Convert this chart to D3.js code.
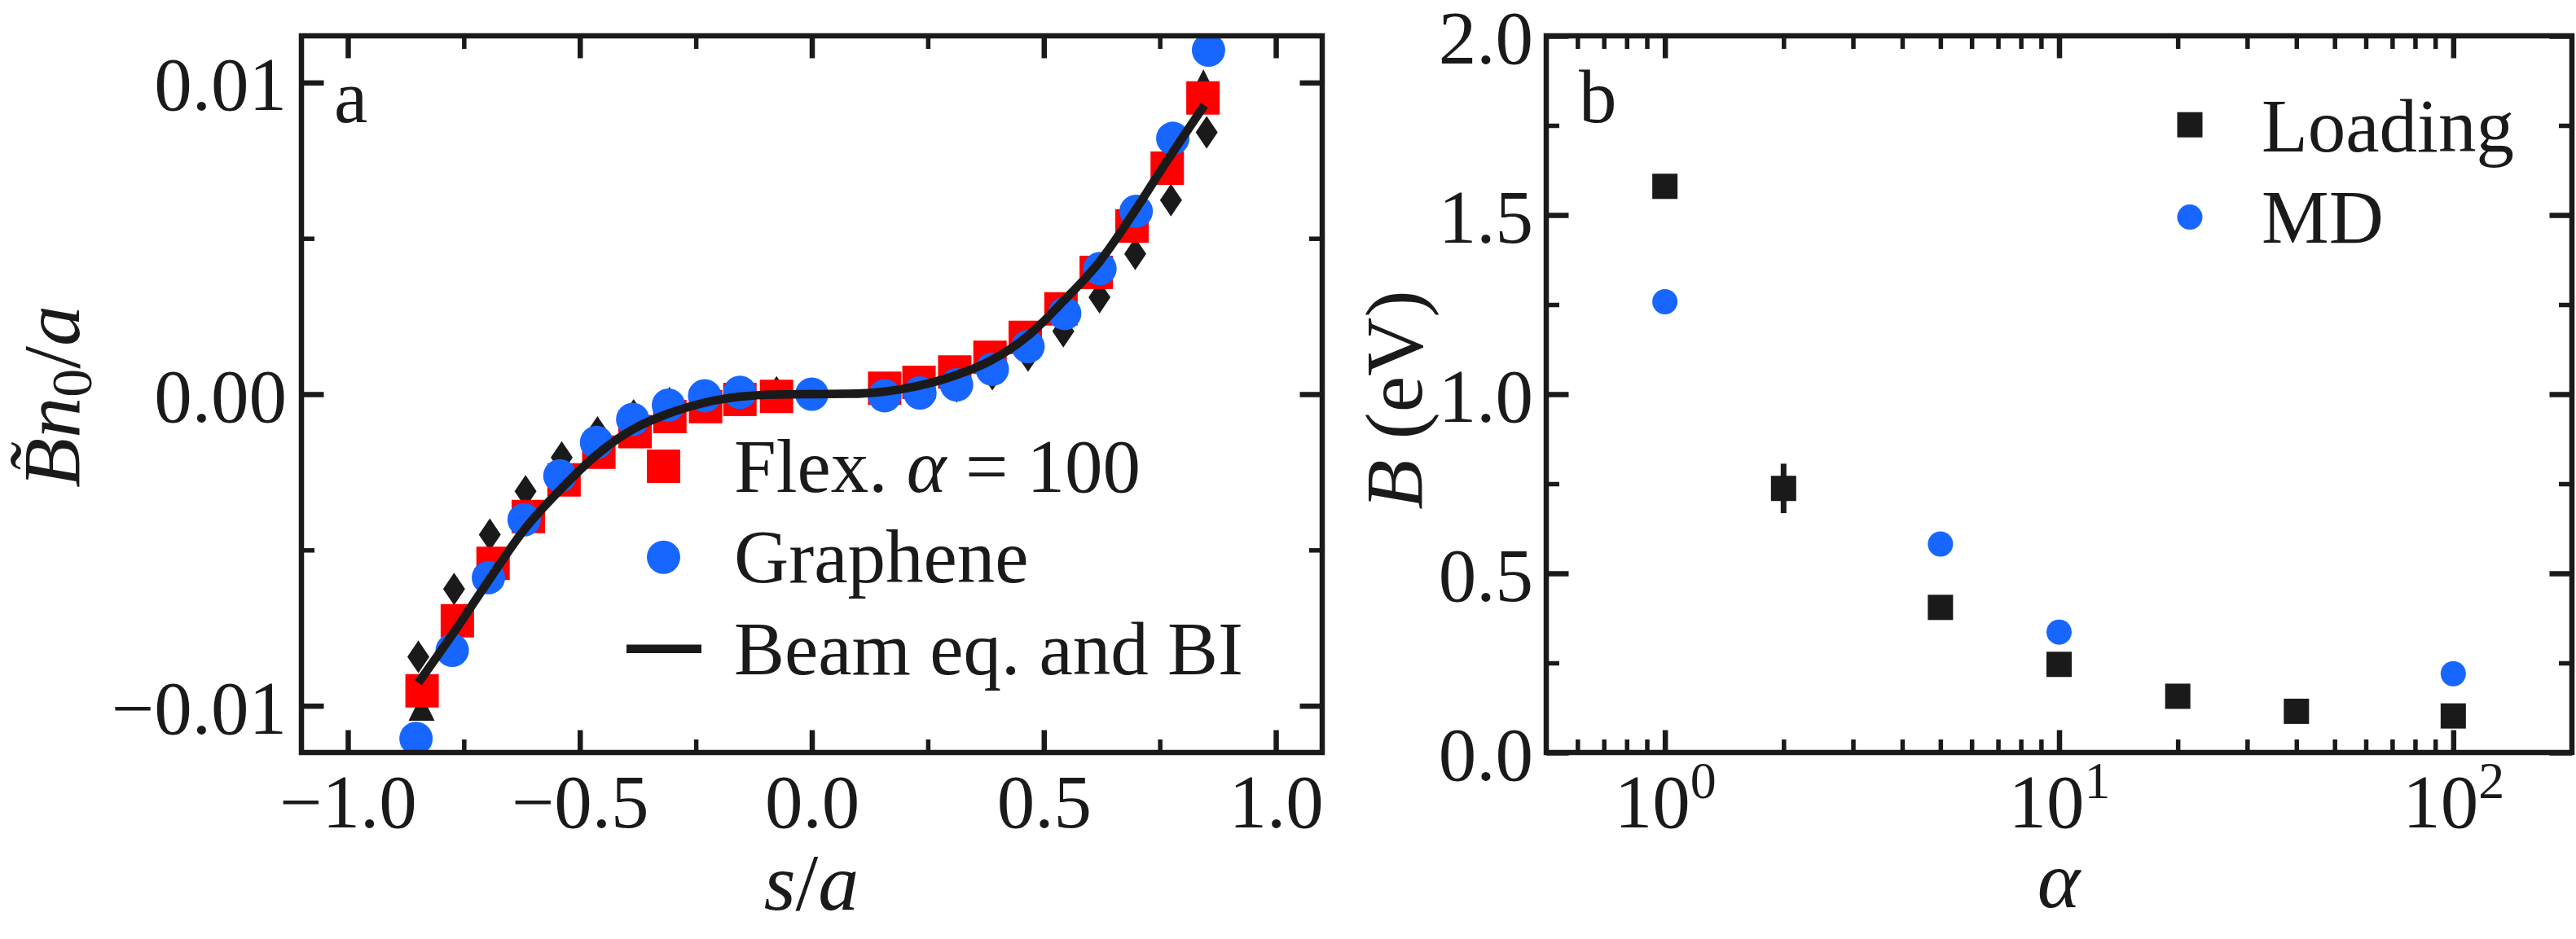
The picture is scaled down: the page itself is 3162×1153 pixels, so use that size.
<!DOCTYPE html>
<html><head><meta charset="utf-8">
<script src="https://cdn.jsdelivr.net/npm/d3@7"></script>
<style>
html,body{margin:0;padding:0;background:#fff;}
svg{display:block;}
text{white-space:pre;font-family:"Liberation Serif","DejaVu Serif","Noto Serif",serif;}
</style></head><body>
<svg id="chart" width="3162" height="1153"></svg>
<script>
// ---------------- Panel a data ----------------
const graphS = [-0.853, -0.775, -0.697, -0.620, -0.543, -0.464, -0.386, -0.309, -0.231, -0.155, 0.000, 0.157, 0.233, 0.312, 0.389, 0.466, 0.545, 0.621, 0.699, 0.778, 0.855];
const graphV = [-0.01105, -0.00822, -0.00589, -0.00403, -0.00262, -0.00155, -0.00081, -0.00035, -0.00005, 0.00006, 0.00000, -0.00005, 0.00004, 0.00030, 0.00080, 0.00153, 0.00259, 0.00403, 0.00587, 0.00821, 0.01104];

const flexS = [-0.840, -0.764, -0.687, -0.611, -0.534, -0.459, -0.381, -0.306, -0.229, -0.155, -0.076, 0.157, 0.231, 0.308, 0.384, 0.460, 0.537, 0.613, 0.690, 0.766, 0.843];
const flexV = [-0.00952, -0.00727, -0.00543, -0.00393, -0.00275, -0.00186, -0.00120, -0.00072, -0.00040, -0.00017, -0.00007, 0.00019, 0.00038, 0.00071, 0.00118, 0.00182, 0.00274, 0.00391, 0.00540, 0.00725, 0.00951];

const diaS = [-0.848, -0.771, -0.694, -0.617, -0.539, -0.462, -0.384, -0.307, -0.076, 0.312, 0.389, 0.466, 0.542, 0.620, 0.697, 0.774, 0.851];
const diaV = [-0.00843, -0.00625, -0.00451, -0.00312, -0.00203, -0.00123, -0.00068, -0.00029, 0.00006, 0.00025, 0.00064, 0.00124, 0.00202, 0.00311, 0.00450, 0.00623, 0.00840];

const triS = [-0.841, 0.844];
const triV = [-0.01006, 0.01001];

const beamS = [-0.848, -0.764, -0.697, -0.620, -0.543, -0.464, -0.386, -0.309, -0.231, -0.155, -0.078, 0.000, 0.078, 0.155, 0.231, 0.309, 0.386, 0.464, 0.543, 0.620, 0.697, 0.764, 0.846];
const beamV = [-0.00926, -0.00748, -0.00599, -0.00435, -0.00308, -0.00195, -0.00113, -0.00062, -0.00027, -0.00008, -0.00001, 0.00000, 0.00001, 0.00008, 0.00027, 0.00060, 0.00108, 0.00185, 0.00300, 0.00425, 0.00590, 0.00745, 0.00927];

const aXMajor = [-1.0, -0.5, 0.0, 0.5, 1.0];
const aXMinor = [-0.75, -0.25, 0.25, 0.75];
const aYMajor = [-0.01, 0.00, 0.01];
const aYMinor = [-0.005, 0.005];
const aLegend = ["Flex. ", "\u03b1", " = 100", "Graphene", "Beam eq. and BI"];

// ---------------- Panel b data ----------------
const alphaLoad = [1, 2, 5, 10, 20, 40, 100];
const loadB     = [1.580, 0.737, 0.405, 0.246, 0.157, 0.115, 0.102];
const loadErr   = [0, 0.069, 0, 0, 0, 0, 0];
const alphaMD   = [1, 5, 10, 100];
const mdB       = [1.258, 0.582, 0.336, 0.220];

const bXMajor = [1, 10, 100];
const bXMinor = [0.6, 0.7, 0.8, 0.9, 2, 3, 4, 5, 6, 7, 8, 9, 20, 30, 40, 50, 60, 70, 80, 90];
const bYMajor = [0.0, 0.5, 1.0, 1.5, 2.0];
const bYMinor = [0.25, 0.75, 1.25, 1.75];
const bLegend = ["Loading", "MD"];

// ---------------- style ----------------
const W = 3162, H = 1153;
const INK = "#1a1a1a", RED = "#ff0000", BLUE = "#1766ff";
const FS = 93;
const MAJ = 27.5, MIN = 16, SPINE = 6.5;

const svg = d3.select("#chart");
svg.append("rect").attr("width", W).attr("height", H).attr("fill", "#fff");

const xA = d3.scaleLinear([-1.1, 1.1], [370, 1623]);
const yA = d3.scaleLinear([-0.0115, 0.0115], [924, 44]);
const xB = d3.scaleLog([0.5, 200], [1898, 3157]);
const yB = d3.scaleLinear([0, 2], [924, 44]);

function styleAxis(g, w) {
  g.select(".domain").remove();
  g.attr("font-family", null).attr("font-size", FS);
  g.selectAll(".tick line").attr("stroke", INK).attr("stroke-width", w);
  g.selectAll(".tick text").attr("fill", INK);
}

function axes(root, x, y, cfg) {
  const [xl, xr] = x.range();
  const [yb, yt] = y.range();
  const bot = root.append("g").attr("transform", `translate(0,${yb})`)
    .call(d3.axisBottom(x).tickValues(cfg.xMajor).tickSizeInner(-MAJ).tickSizeOuter(0).tickPadding(0).tickFormat(cfg.xFmt));
  styleAxis(bot, 6.5);
  bot.selectAll(".tick text").attr("y", 92).attr("dy", 0);
  root.append("g").attr("transform", `translate(0,${yb})`)
    .call(d3.axisBottom(x).tickValues(cfg.xMinor).tickSizeInner(-MIN).tickSizeOuter(0).tickFormat(""))
    .call(g => styleAxis(g, 5.5));
  root.append("g").attr("transform", `translate(0,${yt})`)
    .call(d3.axisTop(x).tickValues(cfg.xMajor).tickSizeInner(-MAJ).tickSizeOuter(0).tickFormat(""))
    .call(g => styleAxis(g, 6.5));
  root.append("g").attr("transform", `translate(0,${yt})`)
    .call(d3.axisTop(x).tickValues(cfg.xMinor).tickSizeInner(-MIN).tickSizeOuter(0).tickFormat(""))
    .call(g => styleAxis(g, 5.5));
  const left = root.append("g").attr("transform", `translate(${xl},0)`)
    .call(d3.axisLeft(y).tickValues(cfg.yMajor).tickSizeInner(-MAJ).tickSizeOuter(0).tickPadding(cfg.yPad).tickFormat(cfg.yFmt));
  styleAxis(left, 6.5);
  left.selectAll(".tick text").attr("dy", "0.36em");
  root.append("g").attr("transform", `translate(${xl},0)`)
    .call(d3.axisLeft(y).tickValues(cfg.yMinor).tickSizeInner(-MIN).tickSizeOuter(0).tickFormat(""))
    .call(g => styleAxis(g, 5.5));
  root.append("g").attr("transform", `translate(${xr},0)`)
    .call(d3.axisRight(y).tickValues(cfg.yMajor).tickSizeInner(-MAJ).tickSizeOuter(0).tickFormat(""))
    .call(g => styleAxis(g, 6.5));
  root.append("g").attr("transform", `translate(${xr},0)`)
    .call(d3.axisRight(y).tickValues(cfg.yMinor).tickSizeInner(-MIN).tickSizeOuter(0).tickFormat(""))
    .call(g => styleAxis(g, 5.5));
  return bot;
}

function spine(root, x, y) {
  const [xl, xr] = x.range();
  const [yb, yt] = y.range();
  root.append("rect").attr("x", xl).attr("y", yt).attr("width", xr - xl).attr("height", yb - yt)
    .attr("fill", "none").attr("stroke", INK).attr("stroke-width", SPINE);
}

function clip(id, x, y) {
  const [xl, xr] = x.range();
  const [yb, yt] = y.range();
  svg.append("clipPath").attr("id", id).append("rect")
    .attr("x", xl).attr("y", yt).attr("width", xr - xl).attr("height", yb - yt);
}

const sqA = d3.symbol(d3.symbolSquare, 41 * 41);
const ciA = d3.symbol(d3.symbolCircle, Math.PI * 20.5 * 20.5);
const thinDiamond = { draw(c) { c.moveTo(0, -20); c.lineTo(13.5, 0); c.lineTo(0, 20); c.lineTo(-13.5, 0); c.closePath(); } };
const triUp = { draw(c) { c.moveTo(0, -16); c.lineTo(16, 16); c.lineTo(-16, 16); c.closePath(); } };
const diA = d3.symbol(thinDiamond);
const trA = d3.symbol(triUp);
const sqB = d3.symbol(d3.symbolSquare, 31 * 31);
const ciB = d3.symbol(d3.symbolCircle, Math.PI * 15.5 * 15.5);

// ================= Panel a =================
const gA = svg.append("g");
clip("clipA", xA, yA);
axes(gA, xA, yA, {
  xMajor: aXMajor, xMinor: aXMinor, yMajor: aYMajor, yMinor: aYMinor,
  xFmt: d3.format(".1f"), yFmt: d3.format(".2f"), yPad: 18
});
const dA = gA.append("g").attr("clip-path", "url(#clipA)");
const zipA = (S, V) => S.map((s, i) => [s, V[i]]);
dA.selectAll(".dia").data(zipA(diaS, diaV)).join("path")
  .attr("d", diA).attr("fill", INK).attr("transform", d => `translate(${xA(d[0])},${yA(d[1])})`);
dA.selectAll(".tri").data(zipA(triS, triV)).join("path")
  .attr("class", "tri").attr("d", trA).attr("fill", INK).attr("transform", d => `translate(${xA(d[0])},${yA(d[1])})`);
dA.selectAll(".sq").data(zipA(flexS, flexV)).join("path")
  .attr("class", "sq").attr("d", sqA).attr("fill", RED).attr("transform", d => `translate(${xA(d[0])},${yA(d[1])})`);
dA.selectAll(".ci").data(zipA(graphS, graphV)).join("path")
  .attr("class", "ci").attr("d", ciA).attr("fill", BLUE).attr("transform", d => `translate(${xA(d[0])},${yA(d[1])})`);
dA.append("path").datum(zipA(beamS, beamV))
  .attr("d", d3.line().x(d => xA(d[0])).y(d => yA(d[1])).curve(d3.curveMonotoneX))
  .attr("fill", "none").attr("stroke", INK).attr("stroke-width", 10.5);
spine(gA, xA, yA);

const legA = gA.append("g").attr("font-size", FS).attr("fill", INK);
legA.append("path").attr("d", sqA).attr("fill", RED).attr("transform", "translate(814.5,572.5)");
legA.append("path").attr("d", ciA).attr("fill", BLUE).attr("transform", "translate(814.5,684.2)");
legA.append("line").attr("x1", 769).attr("x2", 861).attr("y1", 796.7).attr("y2", 796.7)
  .attr("stroke", INK).attr("stroke-width", 10.5);
const t1 = legA.append("text").attr("x", 901).attr("y", 603.5);
t1.append("tspan").text(aLegend[0]);
t1.append("tspan").attr("font-style", "italic").text(aLegend[1]);
t1.append("tspan").text(aLegend[2]);
legA.append("text").attr("x", 901).attr("y", 715).text(aLegend[3]);
legA.append("text").attr("x", 901).attr("y", 828).text(aLegend[4]);

gA.append("text").attr("x", 410).attr("y", 150).attr("font-size", FS).attr("fill", INK).text("a");
const xlabA = gA.append("text").attr("x", 996).attr("y", 1117).attr("text-anchor", "middle")
  .attr("font-size", 100).attr("fill", INK);
xlabA.append("tspan").attr("font-style", "italic").text("s");
xlabA.append("tspan").text("/");
xlabA.append("tspan").attr("font-style", "italic").text("a");
const ylabA = gA.append("text").attr("transform", "translate(97,487) rotate(-90)").attr("text-anchor", "middle")
  .attr("font-size", 100).attr("fill", INK);
ylabA.append("tspan").attr("font-style", "italic").text("B\u0303");
ylabA.append("tspan").attr("font-style", "italic").text("n");
ylabA.append("tspan").attr("font-size", 70).attr("dy", 15).text("0");
ylabA.append("tspan").attr("dy", -15).text("/");
ylabA.append("tspan").attr("font-style", "italic").text("a");

// ================= Panel b =================
const gB = svg.append("g");
clip("clipB", xB, yB);
const botB = axes(gB, xB, yB, {
  xMajor: bXMajor, xMinor: bXMinor, yMajor: bYMajor, yMinor: bYMinor,
  xFmt: d => "10", yFmt: d3.format(".1f"), yPad: 16
});
botB.selectAll(".tick text").each(function (d) {
  const t = d3.select(this);
  t.text("");
  t.append("tspan").text("10");
  t.append("tspan").attr("font-size", 64).attr("dy", -36).text(String(Math.round(Math.log10(d))));
});
const dB = gB.append("g").attr("clip-path", "url(#clipB)");
const loadPts = alphaLoad.map((a, i) => [a, loadB[i], loadErr[i]]);
dB.selectAll(".err").data(loadPts.filter(d => d[2] > 0)).join("line")
  .attr("x1", d => xB(d[0])).attr("x2", d => xB(d[0]))
  .attr("y1", d => yB(d[1] - d[2])).attr("y2", d => yB(d[1] + d[2]))
  .attr("stroke", INK).attr("stroke-width", 7);
dB.selectAll(".lsq").data(loadPts).join("path")
  .attr("class", "lsq").attr("d", sqB).attr("fill", INK).attr("transform", d => `translate(${xB(d[0])},${yB(d[1])})`);
dB.selectAll(".mci").data(alphaMD.map((a, i) => [a, mdB[i]])).join("path")
  .attr("class", "mci").attr("d", ciB).attr("fill", BLUE).attr("transform", d => `translate(${xB(d[0])},${yB(d[1])})`);
spine(gB, xB, yB);

const legB = gB.append("g").attr("font-size", FS).attr("fill", INK);
legB.append("path").attr("d", sqB).attr("fill", INK).attr("transform", "translate(2688,153.2)");
legB.append("path").attr("d", ciB).attr("fill", BLUE).attr("transform", "translate(2688,266.6)");
legB.append("text").attr("x", 2776).attr("y", 185.6).text(bLegend[0]);
legB.append("text").attr("x", 2776).attr("y", 298.2).text(bLegend[1]);

gB.append("text").attr("x", 1938).attr("y", 150).attr("font-size", FS).attr("fill", INK).text("b");
gB.append("text").attr("x", 2527).attr("y", 1114).attr("text-anchor", "middle")
  .attr("font-size", 100).attr("font-style", "italic").attr("fill", INK).text("\u03b1");
const ylabB = gB.append("text").attr("transform", "translate(1745,491) rotate(-90)").attr("text-anchor", "middle")
  .attr("font-size", 100).attr("fill", INK);
ylabB.append("tspan").attr("font-style", "italic").text("B");
ylabB.append("tspan").text(" (eV)");
</script>
</body></html>
